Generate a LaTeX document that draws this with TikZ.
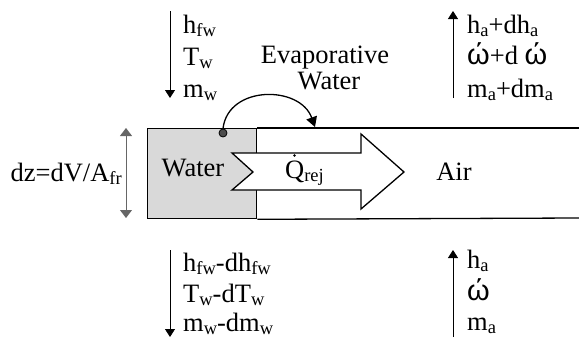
\documentclass[tikz,border=0pt]{standalone}
\usepackage{fontspec}
\setmainfont{Liberation Serif}
\newfontfamily\omegafont{Liberation Sans}
\usetikzlibrary{arrows.meta}
\newcommand\sbs[1]{\raisebox{-0.3ex}{\fontsize{18.5}{18.5}\selectfont #1}}
\newcommand\om{{\omegafont\fontsize{29}{29}\selectfont ώ}}
\begin{document}
\begin{tikzpicture}[x=1pt,y=-1pt,font=\fontsize{26.5}{30}\selectfont,
  lbl/.style={anchor=base west,inner sep=0pt},
  txt/.style={anchor=base,inner sep=0pt},
  flow/.style={draw=black,line width=0.8pt,-{Triangle[width=10pt,length=8pt]}},
  dim/.style={draw=black!60,line width=1pt,{Triangle[width=12pt,length=8pt]}-{Triangle[width=12pt,length=8pt]}},
  box/.style={draw=black,line width=1.3pt},
  evap/.style={draw=black,line width=1.3pt,-{Triangle[width=11pt,length=10pt]}}]
\useasboundingbox (0,0) rectangle (579,340);

% water and air channel
\node[box,fill=black!15,minimum width=109pt,minimum height=90pt,inner sep=0pt,anchor=north west] (water) at (147,128) {};
\coordinate (airtopR) at (579,128);
\coordinate (airbotR) at (579,218);
\draw[box] (water.north east) -- (airtopR);
\draw[box] (water.south east) -- (airbotR);

% heat arrow
\draw[box,fill=white] (232,153) -- (361,153) -- (361,134) -- (404,172) -- (361,209) -- (361,190) -- (232,190) -- (253,172) -- cycle;

\node[txt] (wlabel) at (193,176) {Water};
\node[txt] (alabel) at (454,180) {Air};
\node[lbl] (q) at (285,178) {Q\sbs{rej}};
\fill (294.5,155.5) circle (1.3pt);

% dz
\coordinate (dzt) at (126,128);
\coordinate (dzb) at (126,218);
\draw[dim] (dzt) -- (dzb);
\node[anchor=base east,inner sep=0pt] (dz) at (122,181) {dz=dV/A\sbs{fr}};

% evaporative water
\node[circle,draw=black,line width=0.8pt,fill=black!70,minimum size=8pt,inner sep=0pt] (dot) at (223,133) {};
\coordinate (evend) at (315,127);
\draw[evap] (dot.north) .. controls (228,85) and (300,85) .. (evend);
\node[txt] (ev1) at (325,63) {Evaporative};
\node[txt] (ev2) at (329,89) {Water};

% top left water in
\coordinate (tl1) at (170,11);
\coordinate (tl2) at (170,98);
\draw[flow] (tl1) -- (tl2);
\node[lbl] (hfw) at (183,33) {h\sbs{fw}};
\node[lbl] (tw) at (183,65) {T\sbs{w}};
\node[lbl] (mw) at (183,97) {m\sbs{w}};

% top right air out
\coordinate (tr1) at (453,98);
\coordinate (tr2) at (453,11);
\draw[flow] (tr1) -- (tr2);
\node[lbl] (ha2) at (467,33) {h\sbs{a}+dh\sbs{a}};
\node[lbl] (om2) at (467,64) {\om+d \om};
\node[lbl] (ma2) at (467,97) {m\sbs{a}+dm\sbs{a}};

% bottom left water out
\coordinate (bl1) at (170,250);
\coordinate (bl2) at (170,337);
\draw[flow] (bl1) -- (bl2);
\node[lbl] (hfw2) at (183,271) {h\sbs{fw}-dh\sbs{fw}};
\node[lbl] (tw2) at (183,302) {T\sbs{w}-dT\sbs{w}};
\node[lbl] (mw2) at (183,331) {m\sbs{w}-dm\sbs{w}};

% bottom right air in
\coordinate (br1) at (453,337);
\coordinate (br2) at (453,250);
\draw[flow] (br1) -- (br2);
\node[lbl] (ha) at (467,268) {h\sbs{a}};
\node[lbl] (om) at (467,300) {\om};
\node[lbl] (ma) at (467,330) {m\sbs{a}};
\end{tikzpicture}
\end{document}
